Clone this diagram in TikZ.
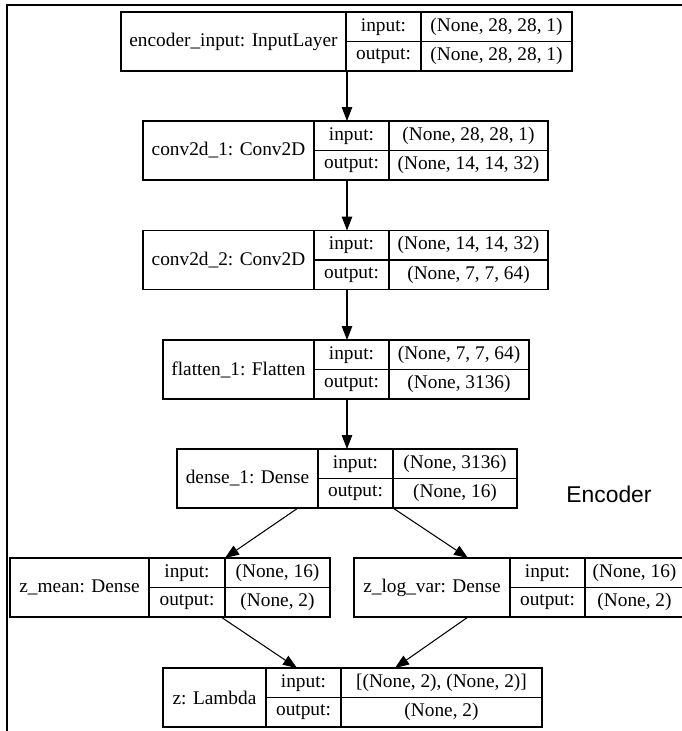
\documentclass[tikz,border=0pt]{standalone}
\usepackage{fontspec}
\setmainfont{Liberation Serif}
\newfontfamily\captionfont{Liberation Sans}
\usepackage{tikz}
\usetikzlibrary{arrows.meta, positioning, calc}

\tikzset{
  cell/.style={draw, line width=0.6pt, inner sep=0pt, outer sep=0pt, anchor=north west,
               font=\fontsize{11}{13}\selectfont},
  edge/.style={line width=0.6pt, -{Triangle[length=0.28cm, width=0.21cm]}},
  frame/.style={line width=1.1pt},
}
\newcommand{\layerbox}[9]{%
  \node[cell, minimum width=#4*0.02cm, minimum height=59*0.02cm] (#1) at (#2,#3) {#7};
  \node[cell, minimum width=#5*0.02cm, minimum height=29.5*0.02cm] (#1i) at (#1.north east) {input:};
  \node[cell, minimum width=#5*0.02cm, minimum height=29.5*0.02cm] (#1o) at (#1i.south west) {output:};
  \node[cell, minimum width=#6*0.02cm, minimum height=29.5*0.02cm] (#1iv) at (#1i.north east) {#8};
  \node[cell, minimum width=#6*0.02cm, minimum height=29.5*0.02cm] (#1ov) at (#1o.north east) {#9};
}

\begin{document}
\begin{tikzpicture}[x=0.02cm, y=-0.02cm]
  \useasboundingbox (0,0) rectangle (682,731);
  \clip (0,0) rectangle (682,731);
  \draw[frame] (7,731) -- (7,5) -- (682,5);

  \layerbox{b1}{121}{12}{225}{75}{151}{encoder\_input: InputLayer}{(None, 28, 28, 1)}{(None, 28, 28, 1)}
  \layerbox{b2}{143}{121}{171}{75}{159}{conv2d\_1: Conv2D}{(None, 28, 28, 1)}{(None, 14, 14, 32)}
  \layerbox{b3}{143}{230.5}{171}{75}{159}{conv2d\_2: Conv2D}{(None, 14, 14, 32)}{(None, 7, 7, 64)}
  \layerbox{b4}{163}{340}{151}{75}{140}{flatten\_1: Flatten}{(None, 7, 7, 64)}{(None, 3136)}
  \layerbox{b5}{177}{449}{141}{75}{124}{dense\_1: Dense}{(None, 3136)}{(None, 16)}
  \layerbox{b6}{10}{558}{139}{76}{105}{z\_mean: Dense}{(None, 16)}{(None, 2)}
  \layerbox{b7}{354}{558}{156}{75}{99}{z\_log\_var: Dense}{(None, 16)}{(None, 2)}
  \layerbox{b8}{163}{668}{103}{75}{201}{z: Lambda}{[(None, 2), (None, 2)]}{(None, 2)}

  \node[font=\captionfont\fontsize{13}{15}\selectfont] (enc) at (609,494) {Encoder};

  \coordinate (spine) at (347,0);
  \foreach \a/\b in {b1/b2, b2/b3, b3/b4, b4/b5}
    \draw[edge] (\a.south -| spine) -- (\b.north -| spine);
  \draw[edge] ($(b5.south west)+(121,0)$) -- (b6i.north east);
  \draw[edge] (b5o.south east) -- ($(b7.north west)+(114,0)$);
  \draw[edge] ($(b6o.south east)+(-4,0)$) -- ($(b8i.north west)+(31,0)$);
  \draw[edge] ($(b7.south west)+(114,0)$) -- ($(b8iv.north west)+(54,0)$);
\end{tikzpicture}
\end{document}
